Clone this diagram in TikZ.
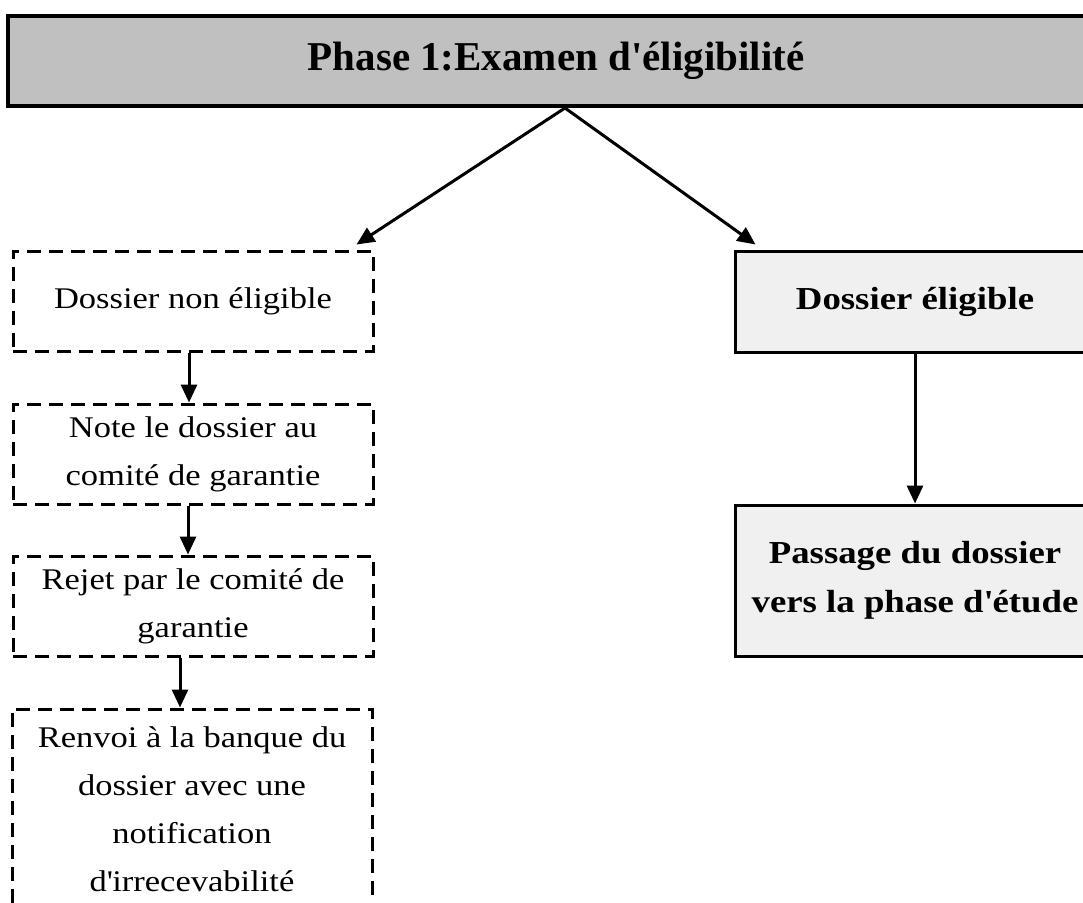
\documentclass[tikz,border=0pt]{standalone}
\usepackage{fontspec}
\setmainfont{Liberation Serif}
\newfontfamily\boxfont{Liberation Serif}[FakeStretch=1.15]
\usepackage{xcolor}
\usetikzlibrary{arrows.meta}
\definecolor{titlegray}{HTML}{C0C0C0}
\definecolor{okgray}{HTML}{F0F0F0}
\tikzset{
  titlebox/.style={draw, line width=4pt, fill=titlegray, minimum width=1096pt, minimum height=90pt,
    font=\fontsize{41}{48}\selectfont\bfseries},
  nonbox/.style={draw, line width=3pt, dash pattern=on 14pt off 8pt, minimum width=360pt, minimum height=100pt,
    align=center, inner sep=0pt, font=\boxfont\fontsize{30}{48}\selectfont},
  okbox/.style={draw, line width=3pt, fill=okgray, minimum width=360pt, minimum height=101pt,
    align=center, inner sep=0pt, font=\boxfont\fontsize{32}{49}\selectfont\bfseries},
  flow/.style={-{Triangle[length=18pt,width=16pt]}, line width=3pt}
}
\begin{document}
\begin{tikzpicture}[x=1pt,y=-1pt]
\useasboundingbox (0,0) rectangle (1083,902);
\clip (0,0) rectangle (1083,902);
\node[titlebox](phase) at (556,61){Phase 1:Examen d\textquotesingle éligibilité};
\node[nonbox](non) at (193,301){Dossier non éligible};
\node[nonbox](note) at (193,454){Note le dossier au\\comité de garantie};
\node[nonbox](rejet) at (193,606){Rejet par le comité de\\garantie};
\node[nonbox, minimum height=200pt](renvoi) at (192,809){Renvoi à la banque du\\dossier avec une\\notification\\d\textquotesingle irrecevabilité};
\node[okbox](elig) at (915,301.5){Dossier éligible};
\node[okbox, minimum height=151pt](passage) at (915,580.5){Passage du dossier\\vers la phase d\textquotesingle étude};
\coordinate(fork) at (565,108);
\draw[flow](fork) -- ([xshift=-18pt,yshift=5pt]non.north east);
\draw[flow](fork) -- ([xshift=22pt,yshift=5pt]elig.north west);
\draw[flow]([xshift=-4pt]non.south) -- ([xshift=-4pt]note.north);
\draw[flow]([xshift=-5pt]note.south) -- ([xshift=-5pt]rejet.north);
\draw[flow]([xshift=-13pt]rejet.south) -- ([xshift=-12pt]renvoi.north);
\draw[flow](elig.south) -- (passage.north);
\end{tikzpicture}
\end{document}
